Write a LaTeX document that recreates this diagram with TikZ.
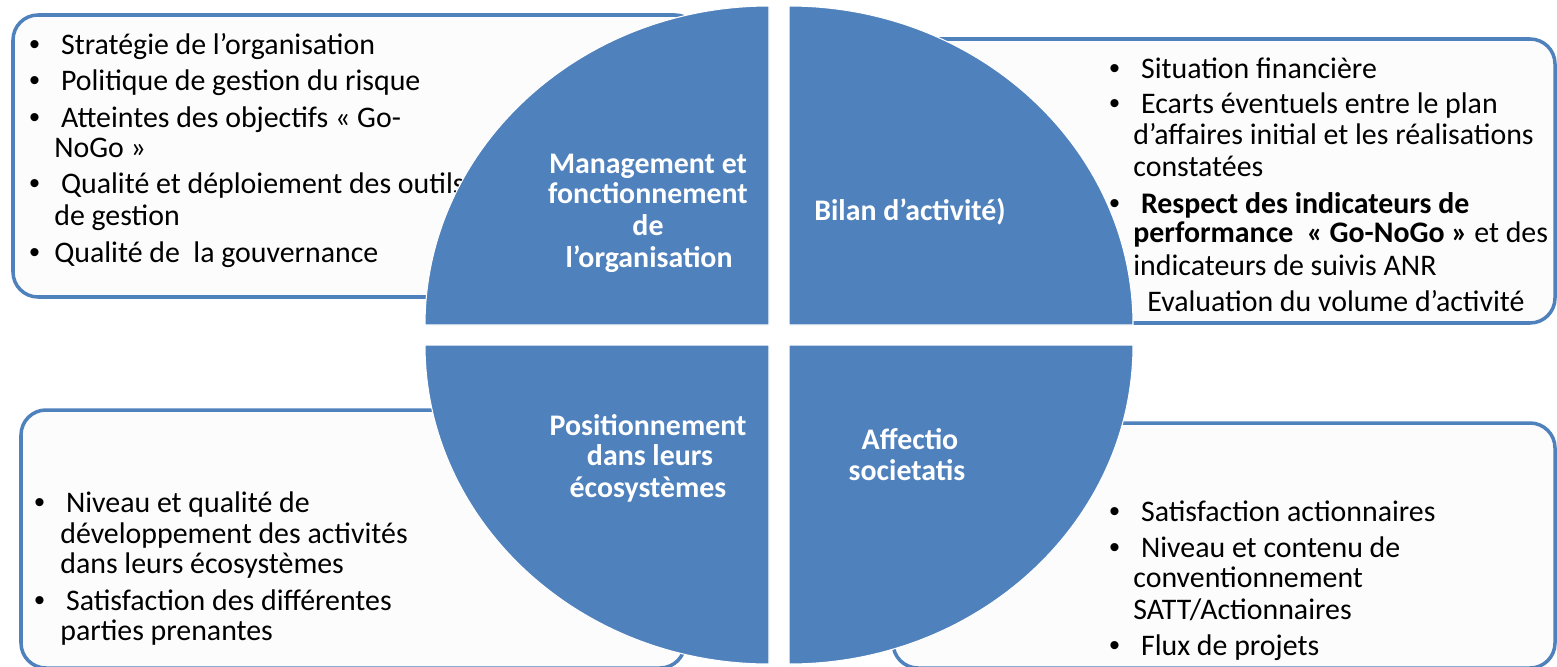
\documentclass[tikz,border=0pt]{standalone}
\usepackage{fontspec}
\setmainfont{Carlito}
\newfontfamily\bulfont{Liberation Sans}
\definecolor{quadblue}{HTML}{4F81BD}
\newcommand{\bul}{\makebox[14.2pt][l]{\bulfont\textbullet}}

\begin{document}
\begin{tikzpicture}
        [x=0.02cm, y=-0.02cm,
        infobox/.style={draw=quadblue, line width=2pt, fill=black!1, rounded corners=0.5cm},
        quad/.style={fill=quadblue, draw=white, line width=0.6pt},
        itemtext/.style={anchor=base west, inner sep=0pt, font=\fontsize{17}{20}\selectfont},
        quadtext/.style={anchor=base, inner sep=0pt, text=white, font=\bfseries\fontsize{17}{20}\selectfont}]

        \useasboundingbox (0,0) rectangle (1557,666);

        % boxes behind the circle
        \draw[infobox] (13,15) rectangle (700,297);
        \draw[infobox] (870,39) rectangle (1555,323);
        \draw[infobox] (21,410) rectangle (685,668);
        \draw[infobox] (893,423) rectangle (1555,668);

        % top left box
        \node[itemtext] (tl1) at (29,54) {\bul\ Stratégie de l’organisation};
        \node[itemtext] (tl2) at (29,90) {\bul\ Politique de gestion du risque};
        \node[itemtext] (tl3) at (29,127) {\bul\ Atteintes des objectifs « Go-};
        \node[itemtext] (tl4) at (54,157) {NoGo »};
        \node[itemtext] (tl5) at (29,193) {\bul\ Qualité et déploiement des outils};
        \node[itemtext] (tl6) at (54,225) {de gestion};
        \node[itemtext] (tl7) at (29,262) {\bul Qualité de\ \ la gouvernance};

        % top right box
        \node[itemtext] (tr1) at (1109,78) {\bul\ Situation financière};
        \node[itemtext] (tr2) at (1109,113) {\bul\ Ecarts éventuels entre le plan};
        \node[itemtext] (tr3) at (1133,144) {d’affaires initial et les réalisations};
        \node[itemtext] (tr4) at (1133,176) {constatées};
        \node[itemtext] (tr5) at (1109,213) {\bul\ \textbf{Respect des indicateurs de}};
        \node[itemtext] (tr6) at (1133,242) {\textbf{performance\ \ « Go-NoGo »} et des};
        \node[itemtext] (tr7) at (1133,275) {indicateurs de suivis ANR};
        \node[itemtext] (tr8) at (1147,311) {Evaluation du volume d’activité};

        % bottom left box
        \node[itemtext] (bl1) at (34,512) {\bul\ Niveau et qualité de};
        \node[itemtext] (bl2) at (60,543) {développement des activités};
        \node[itemtext] (bl3) at (60,573) {dans leurs écosystèmes};
        \node[itemtext] (bl4) at (34,610) {\bul\ Satisfaction des différentes};
        \node[itemtext] (bl5) at (60,640) {parties prenantes};

        % bottom right box
        \node[itemtext] (br1) at (1109,521) {\bul\ Satisfaction actionnaires};
        \node[itemtext] (br2) at (1109,557) {\bul\ Niveau et contenu de};
        \node[itemtext] (br3) at (1133,587) {conventionnement};
        \node[itemtext] (br4) at (1133,619) {SATT/Actionnaires};
        \node[itemtext] (br5) at (1109,655) {\bul\ Flux de projets};

        % the four quarters
        \fill[quad] (769,325) -- (425,325) arc[start angle=180, end angle=270, x radius=344, y radius=319] -- cycle;
        \fill[quad] (789,325) -- (789,6) arc[start angle=270, end angle=360, x radius=344, y radius=319] -- cycle;
        \fill[quad] (769,345) -- (769,664) arc[start angle=90, end angle=180, x radius=344, y radius=319] -- cycle;
        \fill[quad] (789,345) -- (1133,345) arc[start angle=0, end angle=90, x radius=344, y radius=319] -- cycle;

        % labels in the quarters
        \node[quadtext] (mgt1) at (648,173) {Management et};
        \node[quadtext] (mgt2) at (648,203) {fonctionnement};
        \node[quadtext] (mgt3) at (648,235) {de};
        \node[quadtext] (mgt4) at (649,267) {l’organisation};
        \node[quadtext] (bilan) at (910,220) {Bilan d’activité)};
        \node[quadtext] (pos1) at (648,435) {Positionnement};
        \node[quadtext] (pos2) at (650,465) {dans leurs};
        \node[quadtext] (pos3) at (648,497) {écosystèmes};
        \node[quadtext] (aff1) at (910,449) {Affectio};
        \node[quadtext] (aff2) at (907,480) {societatis};

    \end{tikzpicture}
\end{document}
